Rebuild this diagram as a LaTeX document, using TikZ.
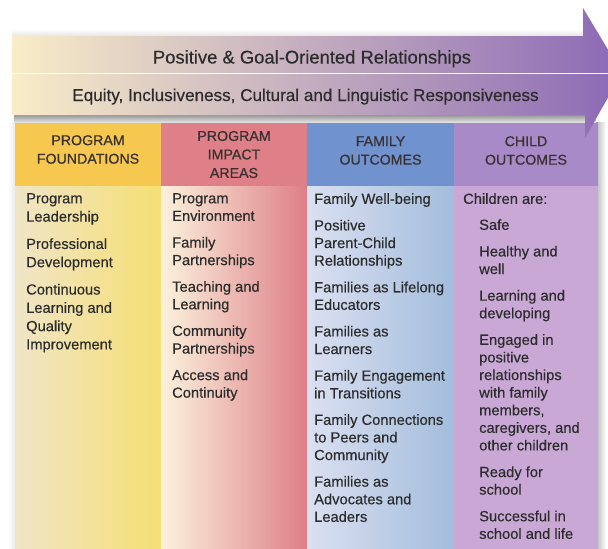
\documentclass[tikz,border=0pt]{standalone}
\usepackage{fontspec}
\setmainfont{Liberation Sans}
\newfontfamily\hdfont[FakeBold=0.8]{Liberation Sans}
\newfontfamily\bodyfont[FakeBold=0.35]{Liberation Sans}
\definecolor{arrowL}{HTML}{F8EDC8}
\definecolor{arrowM}{HTML}{D6B7D3}
\definecolor{arrowR}{HTML}{8C69B5}
\definecolor{hdrA}{HTML}{F6C84F}
\definecolor{hdrB}{HTML}{DF7F88}
\definecolor{hdrC}{HTML}{7092CE}
\definecolor{hdrD}{HTML}{A98AC8}
\definecolor{bodyAL}{HTML}{F0E5C6}
\definecolor{bodyAR}{HTML}{F6DF74}
\definecolor{bodyBL}{HTML}{FBF2DC}
\definecolor{bodyBM}{HTML}{F0C6B5}
\definecolor{bodyBR}{HTML}{DE7F88}
\definecolor{bodyCL}{HTML}{DBE0F1}
\definecolor{bodyCR}{HTML}{A3BDDC}
\definecolor{bodyD}{HTML}{C9A8D6}
\definecolor{txt}{HTML}{2C2C2C}
\definecolor{hdtxt}{HTML}{3A3232}
\tikzset{
  hdr/.style={align=center, inner sep=0pt, text=hdtxt,
    font=\hdfont\fontsize{14.2}{18.5}\selectfont},
  bodytext/.style={align=left, inner sep=0pt, anchor=north west, text=txt,
    font=\bodyfont\fontsize{14.7}{17.6}\selectfont},
  titletext/.style={anchor=base, inner sep=0pt, text=txt}
}
\begin{document}
\begin{tikzpicture}[x=1pt,y=-1pt]
\clip (0,0) rectangle (608,549);
\fill[white] (0,0) rectangle (608,549);
% column shadows
\shade[left color=black!22, right color=white] (598,122) rectangle (606,549);
\shade[left color=white, right color=black!8] (8,122) rectangle (15,549);
% column bodies
\shade[left color=bodyAL, right color=bodyAR] (15,186) rectangle (161,549);
\shade[left color=bodyBL, middle color=bodyBM, right color=bodyBR] (161,186) rectangle (307,549);
\shade[left color=bodyCL, right color=bodyCR] (307,186) rectangle (454,549);
\fill[bodyD] (454,186) rectangle (598,549);
% column headers
\fill[hdrA] (15,122) rectangle (161,186);
\fill[hdrB] (161,122) rectangle (307,186);
\fill[hdrC] (307,122) rectangle (454,186);
\fill[hdrD] (454,122) rectangle (598,186);
% shadow under and above the arrow shaft
\shade[top color=black!45, bottom color=black!12] (14,114) rectangle (596,122);
\shade[top color=white, bottom color=black!10] (12,29) rectangle (583,36);
% arrow
\shade[left color=arrowL, middle color=arrowM, right color=arrowR]
  (12,36) -- (583,36) -- (583,8) -- (622,73) -- (585,138) -- (585,115) -- (12,115) -- cycle;
\draw[white, line width=1.8pt] (12,73.5) -- (608,73.5);
% titles
\node[titletext, font=\bodyfont\fontsize{18.4}{22}\selectfont] (title) at (312,63.5)
  {Positive \& Goal-Oriented Relationships};
\node[titletext, font=\bodyfont\fontsize{17.1}{21}\selectfont] (equity) at (305.5,101)
  {Equity, Inclusiveness, Cultural and Linguistic Responsiveness};
% headers
\node[hdr] (h1) at (88,149.5) {PROGRAM\\FOUNDATIONS};
\node[hdr] (h2) at (234,154.5) {PROGRAM\\IMPACT\\AREAS};
\node[hdr] (h3) at (380.5,150.5) {FAMILY\\OUTCOMES};
\node[hdr] (h4) at (526,150.5) {CHILD\\OUTCOMES};
% body texts
\node[bodytext, font=\bodyfont\fontsize{14.7}{18.3}\selectfont] (b1) at (26,193)
  {Program\\Leadership\\[9pt]Professional\\Development\\[9pt]Continuous\\Learning and\\Quality\\Improvement};
\node[bodytext] (b2) at (172,193)
  {Program\\Environment\\[9pt]Family\\Partnerships\\[9pt]Teaching and\\Learning\\[9pt]Community\\Partnerships\\[9pt]Access and\\Continuity};
\node[bodytext] (b3) at (314,193)
  {Family Well-being\\[9pt]Positive\\Parent-Child\\Relationships\\[9pt]Families as Lifelong\\Educators\\[9pt]Families as\\Learners\\[9pt]Family Engagement\\in Transitions\\[9pt]Family Connections\\to Peers and\\Community\\[9pt]Families as\\Advocates and\\Leaders};
\node[bodytext] (b4a) at (463,193) {Children are:};
\node[bodytext] (b4b) at (479,219)
  {Safe\\[9pt]Healthy and\\well\\[9pt]Learning and\\developing\\[9pt]Engaged in\\positive\\relationships\\with family\\members,\\caregivers, and\\other children\\[9pt]Ready for\\school\\[9pt]Successful in\\school and life};
\end{tikzpicture}
\end{document}
